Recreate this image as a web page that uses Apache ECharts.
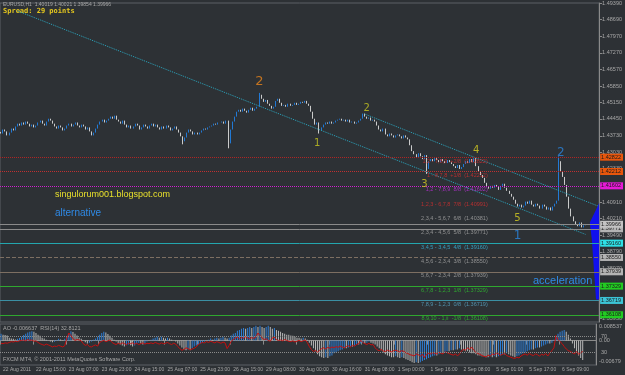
<!DOCTYPE html>
<html>
<head>
<meta charset="utf-8">
<script src="https://cdn.jsdelivr.net/npm/echarts@6/dist/echarts.min.js"></script>
<style>
html, body { margin: 0; padding: 0; background: #2d3135; }
#chart { width: 625px; height: 375px; }
</style>
</head>
<body>
<div id="chart"></div>
<script>
// EURUSD H1, 22 Aug - 6 Sep 2011. closes in pips above 1.4000
var BASE = 1.4;
var firstOpen = 390;
var closePips = [
  383,400,392,375,387,404,396, 413,425,417,430,421,
  434,425,413,421,409,417,430,438,425,417, 434,446,438,425,413,404,417,
  409,396,404,417,425,413,421, 430,417,409,421,413,400,409,392,375,387,
  404,421,434,442,430,438,446, 455,446,459,442,434,425,438,
  421,409,417,404,413,425,417,400,409,421,413,404, 417,425,413,421,409,400,413,
  404,417,409,396,404,413,400,387,371,350, 366,387,400,392,379,387,379,387,
  396,404,400,409,413, 417,425,421,430, 430,434,425,438, 341,400, 434,455,476,
  484,476,489,480,472,484,493,480,489,497, 548,531, 518,526,510,501,489,497, 522,531,
  514,501,505,497,510,501,505,514,505, 510,518,514,522,510,501,
  476,446,421,430, 396,409, 421,430,425,434,425,430,438, 442,446,438,442,434,442,
  430,434,425,430,438,446, 468,455, 446,451,438,442,434, 417,400,392,404,
  379,371,383,375,366,375, 379,371,362,375,366,358, 333,308,295,282,299,286,274,291,
  232,265, 274,265,278,270,261,274,265,257,270,261,253, 244,236,249,232,240,
  253,265,257,274,261,278, 244,223,206,194, 173,156,148,160,
  152,164,156,143,160,169,152,139, 126,114,101,84,72,80,68, 76,93,84,97,80,
  72,84,76,63,80,72,59,68,55,72,84, 97,265,223,198,164,114,63,30,9,
  -4,-12,4,-17,-8,-3
];
// wicks that stick out of the bodies (bar index -> pips)
var wickHigh = { 125: 556, 270: 286 };
var wickLow = { 88: 337, 110: 320, 154: 383, 206: 211 };

// Awesome Oscillator, units of 0.0001
var aoValues = [
  23,20,19,17, 10,7,6,4,6,9, 13,19,23,27,30,32, 30,26,20,16,10,7,
  3,0,-3,-6,-4,2,6,4,1,6, 13,22,32,29,23,17, 10,6,0,-6,-10,-7,-3,3,7,
  13,20,26,30,27,22, 16,10,3,-3,-10,-13,
  -17,-20,-16,-13,-16,-20,-17,-10,-7,-10,-13,-10,-3,0,3,
  7,10,13,10,13,10,7,10,7,3,0,-3,-10, -17,-23,-30,-33,-30,-33,-26,-20,-17,
  -13,-10,-7,-3,0,3,7,3,7,10,7,10,13,10,7,10,
  17,23,26,33,36,40,43,40,43,46,43,46,50,46,50,
  46,43,46,50,46,40,43,36,33,30,26,23,20, 20,17,16,13,10,10,7,10,7,3,
  -7,-17,-26,-36,-46,-53,-56,-59,-56,-59, -53,-50,-43,-40,-36,
  -33,-30,-26,-26,-23,-20,-20,-17,-13,-13,-10,-7,-10,-7,-3,-7,-10,-13,-20,
  -26,-33,-40,-46,-50,-53,-56,-56,
  -53,-56,-59,-56,-59,-63,-66,-69,-73,-76,-73,-76,-73,-69,
  -66,-63,-59,-56,-53,-50,-50,-46,-43,-43,-40,-36,-36,-33,-33,-30,-30,-26,-30,-33,
  -36,-36,-40,-43,-43,-46,-50,-50,-53,-53,-56,-56,-53,-56,
  -53,-56,-53,-50,-46,-46,-43,-46,-50,-53,-56,-53,-50,-46,-43,-40,-36,-33,
  -30,-30,-26,-23,-23,-20,-17,-13,-10,-10,-7, 3,13,23,30,33,36,30,20,
  7,-10,-26,-40,-50,-59,-66
];
var rsiValues = [
  53,52,54,53,55, 57,56,58,57,59, 60,61,59,62,60,61,58,59, 55,52,50,48,51,49,
  47,44,46,45,48,46,44,47, 65,78,72, 64,60,62,61,59, 52,48,50,45,44,47,49,46,
  55,58,60,57,59,61, 55,52,50,53,51,54,52,50,53,52, 54,51,53,50,52,54,51,53,52,
  54,52,55,53,51,54,52,53,55,52,50,53,51, 45,40,36,38,42,40,37,39,41,44,
  50,53,55,54,57,55,58,56,54,57,55,53,56,54,40,48,
  58,62,66,68,64,67,65,69,66,64,67,65,68,78,72,66,
  62,64,60,58,66,68,62,60,61,59,62, 60,58,57,59,56,58,60,57,59,61,55,
  45,38,33,36,31, 36,40,42,39,43,41,44,42,45,43,46,44,42,
  45,47,44,48,46,50,52,60,55, 52,50,53,49,50, 42,37,35,38,34,33,36,34,32,35,
  36,34,32,35,33,30,28,25,24,22,27,25,22,26,18,26,
  28,27,30,29,27,31,29,27,32,30,28,26,24,27,23,26, 34,38,36,42,38,44, 36,31,28,26,
  23,21,20,24,22,27, 25,29,27,24,26,28,23,21,19,17,16,19,17,22,25,
  27,24,28,25,23,27,25,22,26,24, 28,22,29,35, 42,72,62,57, 52,45,39,35,33,
  30,27,33,26,30,33
];

var timeLabels = ['22 Aug 2011', '22 Aug 15:00', '23 Aug 07:00', '23 Aug 23:00', '24 Aug 15:00',
  '25 Aug 07:00', '25 Aug 23:00', '26 Aug 15:00', '29 Aug 08:00', '30 Aug 00:00', '30 Aug 16:00',
  '31 Aug 08:00', '1 Sep 00:00', '1 Sep 16:00', '2 Sep 08:00', '5 Sep 01:00', '5 Sep 17:00', '6 Sep 09:00'];
var priceTicks = [1.49390, 1.48690, 1.47970, 1.47270, 1.46570, 1.45850, 1.45150, 1.44450, 1.43730,
  1.43030, 1.42330, 1.41610, 1.40910, 1.40210, 1.39490, 1.38790, 1.38070, 1.37370, 1.36670, 1.35950];
var aoTickValues = [49, 0, -72];
var aoTickText = ['0.008537', '0.00', '-0.00679'];
var rsiTicks = [70, 30];

// Murrey math levels
var levelPrices = [1.42822, 1.42212, 1.41602, 1.40991, 1.40381, 1.39771, 1.39160, 1.38550, 1.37939, 1.37329, 1.36719, 1.36108];
var levelTags = ['1,2 - 7,8,9  +2/8', '1 - 8,7,8  +1/8', '1,2 - 7,8,9  8/8', '1,2,3 - 6,7,8  7/8',
  '2,3,4 - 5,6,7  6/8', '2,3,4 - 4,5,6  5/8', '3,4,5 - 3,4,5  4/8', '4,5,6 - 2,3,4  3/8',
  '5,6,7 - 2,3,4  2/8', '6,7,8 - 1,2,3  1/8', '7,8,9 - 1,2,3  0/8', '8,9,10 - 1,ii  -1/8'];
var bidPrice = 1.39966;

// trend lines [bar, price]
var trendLines = [
  [[8, 1.4905], [283, 1.3953]],
  [[176, 1.4466], [289, 1.4074]]
];
// wave count
var waveText = ['2', '1', '2', '3', '4', '5', '1', '2'];
var waveBar = [125, 153, 177, 205, 230, 250, 250, 271];
var wavePrice = [1.4603, 1.4343, 1.4492, 1.4168, 1.4313, 1.4023, 1.3946, 1.4300];
// blue wedge at the right edge
var wedgeBars = [289, 289, 285, 286, 287, 288, 289];
var wedgePrices = [1.4088, 1.4076, 1.4004, 1.3929, 1.3802, 1.3676, 1.3676];

// ---- styles ----
var levelLineColor = ['#b02424', '#c03030', '#d020d0', null, null, '#8c8c8c', '#23a6ae', '#7d6f62', '#7d6f62', '#2fa82f', '#3b8fa3', '#2fa82f'];
var levelLineType = ['dotted', 'dotted', 'dotted', 'solid', 'solid', 'solid', 'solid', 'dashed', 'solid', 'solid', 'solid', 'solid'];
var levelBoxColor = ['#e8560c', '#e8560c', '#e619d6', null, null, '#b4b4b4', '#2ee0e6', '#b4b4b4', '#b4b4b4', '#22cc22', '#3cc4d6', '#22cc22'];
var levelTextColor = ['#d83030', '#d83030', '#c030e0', '#d83030', '#a8a8a8', '#a8a8a8', '#38b8e0', '#a8a8a8', '#a8a8a8', '#30c030', '#5aa8c8', '#30c030'];
var waveColor = ['#e8841c', '#c8c820', '#c8c820', '#d8d020', '#d8d020', '#d8d020', '#2a86e0', '#2a86e0'];
var waveSize = [13, 10, 10, 10, 10, 10, 12, 12];
var smallFont = 'Liberation Sans';

var N_SLOTS = 290;
var cats = [];
for (var i = 0; i < N_SLOTS; i++) cats.push(String(i));

var candles = [];
var prev = firstOpen;
for (var i = 0; i < closePips.length; i++) {
  var o = BASE + prev / 10000, c = BASE + closePips[i] / 10000;
  var hi = Math.max(o, c), lo = Math.min(o, c);
  if (wickHigh[i] != null) hi = BASE + wickHigh[i] / 10000;
  if (wickLow[i] != null) lo = BASE + wickLow[i] / 10000;
  candles.push([o, c, lo, hi]);
  prev = closePips[i];
}

var aoData = aoValues.map(function (v, i) {
  var up = i === 0 || v > aoValues[i - 1];
  return { value: v, itemStyle: { color: up ? '#2f7fd6' : '#b8b8b8' } };
});

function boxLabel(text, bg) {
  return {
    show: true, position: 'end', distance: 1, formatter: text,
    backgroundColor: bg, color: '#1a1a1a', fontSize: 5.5, padding: [1, 2, 0, 1],
    fontFamily: smallFont
  };
}
var lineData = [];
levelPrices.forEach(function (p, k) {
  if (!levelLineColor[k]) return;
  lineData.push({
    yAxis: p,
    lineStyle: { color: levelLineColor[k], type: levelLineType[k], width: 1 },
    label: boxLabel(p.toFixed(5), levelBoxColor[k])
  });
});
lineData.push({
  yAxis: bidPrice,
  lineStyle: { color: '#8a8a8a', type: 'solid', width: 1 },
  label: boxLabel(bidPrice.toFixed(5), '#c4c4c4')
});

var levelTextData = levelPrices.map(function (p, k) {
  return {
    value: [238, p],
    label: { color: levelTextColor[k], formatter: levelTags[k] + '  (' + p.toFixed(5) + ')' }
  };
});

var waveData = waveText.map(function (t, k) {
  return {
    value: [waveBar[k], wavePrice[k]],
    label: { formatter: t, color: waveColor[k], fontSize: waveSize[k] }
  };
});

var series = [
  {
    type: 'candlestick', xAxisIndex: 0, yAxisIndex: 0, data: candles, barWidth: 1.3,
    itemStyle: { color: '#1e8cff', color0: '#f2f2f2', borderColor: '#1e8cff', borderColor0: '#f2f2f2', borderWidth: 0.8 }
  },
  {
    // holder for the horizontal levels
    type: 'line', xAxisIndex: 0, yAxisIndex: 0, data: [], silent: true,
    markLine: { symbol: 'none', silent: true, precision: 5, animation: false, data: lineData }
  }
];
trendLines.forEach(function (seg) {
  series.push({
    type: 'line', xAxisIndex: 0, yAxisIndex: 0, data: seg, symbol: 'none', silent: true,
    lineStyle: { color: '#2ba6bf', width: 1, type: 'dotted' }, z: 3
  });
});
series.push({
  type: 'scatter', xAxisIndex: 0, yAxisIndex: 0, symbolSize: 0, silent: true, data: levelTextData,
  label: { show: true, position: 'left', offset: [0, 4], fontSize: 5.5, fontFamily: 'Liberation Sans' }, z: 4
});
series.push({
  type: 'scatter', xAxisIndex: 0, yAxisIndex: 0, symbolSize: 0, silent: true, data: waveData,
  label: { show: true, position: 'inside', fontFamily: 'DejaVu Sans' }, z: 5
});
series.push({
  type: 'custom', xAxisIndex: 0, yAxisIndex: 0, silent: true, data: [[0, 1.39]],
  renderItem: function (params, api) {
    var pts = wedgeBars.map(function (b, k) { return api.coord([b, wedgePrices[k]]); });
    var edge = params.coordSys.x + params.coordSys.width;
    pts[0][0] = edge; pts[pts.length - 1][0] = edge;
    return { type: 'polygon', shape: { points: pts }, style: { fill: '#1010ee' } };
  }, z: 4
});
series.push({
  type: 'bar', xAxisIndex: 1, yAxisIndex: 1, data: aoData, barWidth: 1, silent: true
});
series.push({
  type: 'line', xAxisIndex: 1, yAxisIndex: 2, data: rsiValues, symbol: 'none', silent: true,
  lineStyle: { color: '#c41010', width: 1 },
  markLine: { symbol: 'none', silent: true, label: { show: false }, precision: 2,
    lineStyle: { color: '#8a8a8a', type: 'dotted', width: 1 },
    data: [{ yAxis: 70 }, { yAxis: 30 }] }
});

var axisGrey = '#8a8a8a';
var labelGrey = '#a8a8a8';
var isTimeTick = function (idx) { return idx % 16 === 0 && idx / 16 < timeLabels.length; };

var option = {
  backgroundColor: '#2d3135',
  animation: false,
  grid: [
    { left: 0, right: 21, top: 3, height: 319, show: true, borderColor: '#5c6166', borderWidth: 1 },
    { left: 0, right: 21, top: 324, height: 41, show: true, borderColor: '#5c6166', borderWidth: 1 }
  ],
  xAxis: [
    { type: 'category', gridIndex: 0, data: cats, show: false },
    { type: 'category', gridIndex: 1, data: cats,
      axisLine: { lineStyle: { color: axisGrey } },
      axisTick: { show: true, length: 4, lineStyle: { color: axisGrey }, interval: isTimeTick },
      axisLabel: { color: labelGrey, fontSize: 5, fontFamily: smallFont, margin: 2, align: 'left',
        padding: [0, 0, 0, 2], showMinLabel: true, hideOverlap: false, interval: isTimeTick,
        formatter: function (v, idx) { return timeLabels[idx / 16] || ''; } }
    }
  ],
  yAxis: [
    { type: 'value', gridIndex: 0, position: 'right', min: 1.35801, max: 1.4939,
      splitLine: { show: false },
      axisLine: { show: true, lineStyle: { color: axisGrey } },
      axisTick: { show: true, length: 3, customValues: priceTicks, lineStyle: { color: axisGrey } },
      axisLabel: { color: labelGrey, fontSize: 5.5, fontFamily: smallFont, margin: 3,
        customValues: priceTicks, formatter: function (v) { return v.toFixed(5); } }
    },
    { type: 'value', gridIndex: 1, position: 'right', min: -82.5, max: 56.1,
      splitLine: { show: false },
      axisLine: { show: true, lineStyle: { color: axisGrey } },
      axisTick: { show: false },
      axisLabel: { color: labelGrey, fontSize: 5.5, fontFamily: smallFont, margin: 3,
        customValues: aoTickValues,
        formatter: function (v) { var k = aoTickValues.indexOf(v); return k < 0 ? '' : aoTickText[k]; } }
    },
    { type: 'value', gridIndex: 1, position: 'right', min: 0, max: 100,
      splitLine: { show: false }, axisLine: { show: false }, axisTick: { show: false },
      axisLabel: { color: labelGrey, fontSize: 5.5, fontFamily: smallFont, margin: 5,
        customValues: rsiTicks, formatter: function (v) { return String(v); } }
    }
  ],
  graphic: [
    { type: 'text', left: 3, top: 2, style: { text: 'EURUSD,H1  1.40019 1.40021 1.39854 1.39966', fill: '#a8a8a8', fontSize: 5, fontFamily: 'Liberation Sans' } },
    { type: 'text', left: 3, top: 8, style: { text: 'Spread: 29 points', fill: '#e6c81e', fontSize: 7, fontWeight: 'bold', fontFamily: 'DejaVu Sans Mono' } },
    { type: 'text', left: 55, top: 190, style: { text: 'singulorum001.blogspot.com', fill: '#e8e02c', fontSize: 9, fontFamily: 'Liberation Sans' } },
    { type: 'text', left: 55, top: 208, style: { text: 'alternative', fill: '#2f8ae6', fontSize: 10, fontFamily: 'Liberation Sans' } },
    { type: 'text', left: 533, top: 275, style: { text: 'acceleration', fill: '#2f8ae6', fontSize: 11, fontFamily: 'Liberation Sans' } },
    { type: 'text', left: 3, top: 325, style: { text: 'AO -0.006637  RSI(14) 32.8121', fill: '#a8a8a8', fontSize: 5.5, fontFamily: 'Liberation Sans' } },
    { type: 'text', left: 3, top: 356, style: { text: 'FXCM MT4, \u00a9 2001-2011 MetaQuotes Software Corp.', fill: '#a8a8a8', fontSize: 5.5, fontFamily: 'Liberation Sans' } }
  ],
  series: series
};

var myChart = echarts.init(document.getElementById('chart'));
myChart.setOption(option);
</script>
</body>
</html>
